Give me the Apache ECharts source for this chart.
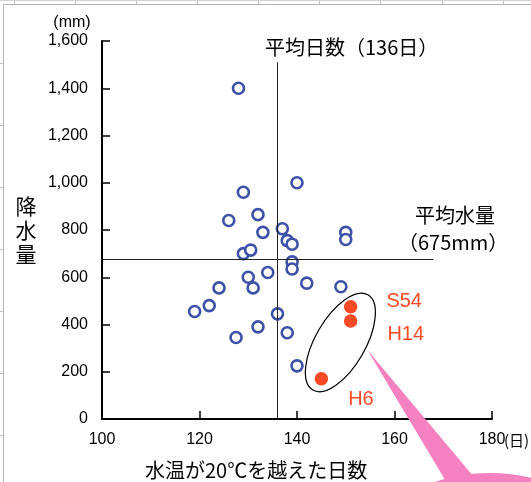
<!DOCTYPE html>
<html>
<head>
<meta charset="utf-8">
<script src="https://cdn.jsdelivr.net/npm/echarts@6/dist/echarts.min.js"></script>
<style>
html,body{margin:0;padding:0;background:#fff;}
#chart{width:531px;height:482px;}
</style>
</head>
<body>
<div id="chart"></div>
<script>
// Days with water temperature above 20℃ vs. rainfall, one point per year
const days = [128, 129, 140, 126, 132, 133, 137, 138, 139, 150, 150, 129, 130.5, 139, 139, 134, 130, 142, 149, 124, 131, 122, 119, 136, 132, 138, 127.5, 140];
const rainfall = [1400, 960, 1000, 840, 865, 790, 805, 755, 740, 790, 760, 700, 715, 665, 635, 620, 600, 575, 560, 555, 555, 480, 455, 445, 390, 365, 345, 225];

// Highlighted years
const hotYears = ['S54', 'H14', 'H6'];
const hotDays = [151, 151, 145];
const hotRain = [475, 415, 170];

// Averages
const avgDays = 136;
const avgRain = 675;

// Axis ranges
const xMin = 100, xMax = 180, xStep = 20;
const yMin = 0, yMax = 1600, yStep = 200;

const LATIN = '"Liberation Sans", Arial, Helvetica, sans-serif';
const CJK = '"Noto Sans CJK JP", "Noto Sans CJK SC", sans-serif';
const BLUE = '#3d51a9';
const RED = '#fb4a26';
const PINK = '#f581c0';

// label placement for the highlighted years: [distance, dx, dy]
const hotLabelPlacement = [[29, 0, -5], [30, 0, 14], [20, 0, 21]];

const chart = echarts.init(document.getElementById('chart'), null, {renderer: 'canvas'});

const axisCommon = {
  type: 'value',
  axisLine: {show: true, onZero: false, lineStyle: {color: '#000', width: 2}},
  axisTick: {show: true, inside: true, length: 8, lineStyle: {color: '#000', width: 1.5}},
  splitLine: {show: false},
  axisLabel: {color: '#000', fontSize: 16, fontFamily: LATIN}
};

chart.setOption({
  animation: false,
  backgroundColor: '#fff',
  grid: {left: 102, right: 39, top: 41, bottom: 63, containLabel: false, outerBoundsMode: 'none'},
  xAxis: Object.assign({}, axisCommon, {
    min: xMin, max: xMax, interval: xStep,
    axisLabel: Object.assign({}, axisCommon.axisLabel, {margin: 13})
  }),
  yAxis: Object.assign({}, axisCommon, {
    min: yMin, max: yMax, interval: yStep,
    axisLabel: Object.assign({}, axisCommon.axisLabel, {
      margin: 14,
      formatter: v => String(v).replace(/\B(?=(\d{3})+(?!\d))/g, ',')
    })
  }),
  series: [
    {
      type: 'scatter',
      data: days.map((d, i) => [d, rainfall[i]]),
      symbol: 'circle',
      symbolSize: 11,
      itemStyle: {color: '#fff', borderColor: BLUE, borderWidth: 2.6, opacity: 1},
      z: 3,
      markLine: {
        silent: true,
        symbol: ['none', 'none'],
        label: {show: false},
        lineStyle: {color: '#222', width: 1, type: 'solid'},
        emphasis: {disabled: true},
        data: [
          [{coord: [avgDays, yMin]}, {coord: [avgDays, 1510]}],
          [{coord: [xMin, avgRain]}, {coord: [168, avgRain]}]
        ]
      }
    },
    {
      type: 'scatter',
      data: hotYears.map((n, i) => ({
        name: n,
        value: [hotDays[i], hotRain[i]],
        label: {
          show: true,
          position: 'right',
          distance: hotLabelPlacement[i][0],
          offset: [hotLabelPlacement[i][1], hotLabelPlacement[i][2]],
          formatter: '{b}',
          color: RED,
          fontSize: 20,
          fontFamily: LATIN
        }
      })),
      symbol: 'circle',
      symbolSize: 13.5,
      itemStyle: {color: RED, opacity: 1},
      z: 4
    }
  ]
});

// Annotation ellipse around the highlighted years, with the pink callout
const c = chart.convertToPixel({gridIndex: 0}, [148.9, 324]);

const sheetLines = [];
[14, 75, 136, 197, 258, 319, 380, 442, 503].forEach(x => {
  sheetLines.push({type: 'line', shape: {x1: x + 0.5, y1: 0, x2: x + 0.5, y2: 4}, style: {stroke: '#c4c4c4', lineWidth: 1}, silent: true});
});
[63, 125, 187, 249, 311, 373, 435].forEach(y => {
  sheetLines.push({type: 'line', shape: {x1: 0, y1: y + 0.5, x2: 3, y2: y + 0.5}, style: {stroke: '#c4c4c4', lineWidth: 1}, silent: true});
});
sheetLines.push({type: 'line', shape: {x1: 0, y1: 0.5, x2: 531, y2: 0.5}, style: {stroke: '#d0d0d0', lineWidth: 1}, silent: true});
sheetLines.push({type: 'line', shape: {x1: 3.5, y1: 4.5, x2: 531, y2: 4.5}, style: {stroke: '#b4b4b4', lineWidth: 1}, silent: true});
sheetLines.push({type: 'line', shape: {x1: 3.5, y1: 4.5, x2: 3.5, y2: 482}, style: {stroke: '#b4b4b4', lineWidth: 1}, silent: true});

chart.setOption({
  graphic: sheetLines.concat([
    {
      type: 'polygon', z: 100, silent: true,
      shape: {points: [[c[0] + 27, c[1] + 7.5], [447, 483], [479, 483]]},
      style: {fill: PINK}
    },
    {
      type: 'ellipse', z: 100, silent: true,
      shape: {cx: 490, cy: 540, rx: 110, ry: 67},
      style: {fill: PINK}
    },
    {
      type: 'ellipse', z: 101, silent: true,
      x: c[0], y: c[1], rotation: -Math.PI / 6,
      shape: {cx: 0, cy: 0, rx: 25, ry: 55},
      style: {fill: null, stroke: '#000', lineWidth: 1.2}
    },
    {
      type: 'text', z: 101, silent: true, x: 72, y: 23,
      style: {text: '(mm)', font: '16px ' + LATIN, fill: '#000', align: 'center', verticalAlign: 'middle'}
    },
    {
      type: 'text', z: 101, silent: true, x: 504, y: 440,
      style: {text: '(日)', font: '15px ' + CJK, fill: '#000', align: 'left', verticalAlign: 'middle'}
    },
    {
      type: 'text', z: 101, silent: true, x: 265, y: 47,
      style: {text: '平均日数（136日）', font: '20px ' + CJK, fill: '#000', align: 'left', verticalAlign: 'middle'}
    },
    {
      type: 'text', z: 101, silent: true, x: 415, y: 215,
      style: {text: '平均水量', font: '20px ' + CJK, fill: '#000', align: 'left', verticalAlign: 'middle'}
    },
    {
      type: 'text', z: 101, silent: true, x: 398, y: 242,
      style: {text: '（675mm）', font: '20px ' + CJK, fill: '#000', align: 'left', verticalAlign: 'middle'}
    },
    {
      type: 'text', z: 101, silent: true, x: 26, y: 230,
      style: {text: '降\n水\n量', font: '21px ' + CJK, lineHeight: 24, fill: '#000', align: 'center', verticalAlign: 'middle'}
    },
    {
      type: 'text', z: 101, silent: true, x: 145, y: 470,
      style: {text: '水温が20℃を越えた日数', font: '20px ' + CJK, fill: '#000', align: 'left', verticalAlign: 'middle'}
    }
  ])
});
</script>
</body>
</html>
